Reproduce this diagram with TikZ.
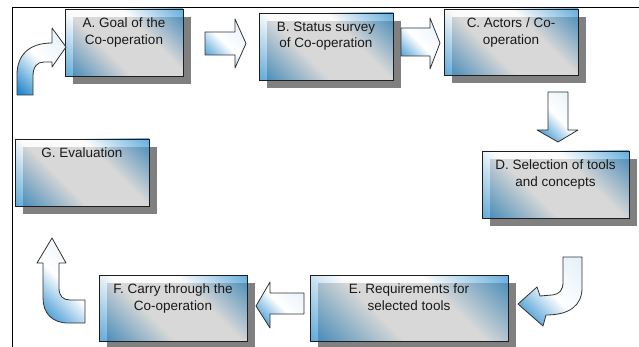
\documentclass[tikz,border=0pt]{standalone}
\usepackage{fontspec}
\setmainfont{Liberation Sans}
\usetikzlibrary{shadows}
\definecolor{bblue}{RGB}{38,138,204}
\definecolor{lightc}{RGB}{250,250,250}
\definecolor{shgrey}{RGB}{128,128,128}
\definecolor{edgec}{RGB}{30,30,30}
\definecolor{arredge}{RGB}{50,50,50}
\definecolor{txtc}{RGB}{25,25,25}
\pgfdeclareverticalshading{boxshade}{100bp}{color(0bp)=(bblue); color(15bp)=(bblue); color(40bp)=(lightc); color(62bp)=(lightc); color(86bp)=(bblue); color(100bp)=(bblue)}
\pgfdeclareverticalshading{arrshade}{100bp}{color(0bp)=(bblue); color(18bp)=(bblue); color(50bp)=(white); color(82bp)=(white!88!bblue); color(100bp)=(white!88!bblue)}
\tikzset{
  procbox/.style={draw=edgec, line width=0.9pt, shading=boxshade, shading angle=-45,
    fill opacity=0.72, draw opacity=1, inner sep=0pt,
    drop shadow={shadow xshift=8pt, shadow yshift=-8pt, fill=shgrey, opacity=1}},
  boxtext/.style={anchor=north, inner sep=0pt, align=center, text=txtc, text opacity=1,
    font=\fontsize{13.5}{16.5}\selectfont},
  blockarrow/.style={draw=arredge, line width=0.8pt, shading=arrshade, shading angle=-45, line join=round},
  framel/.style={draw=black, line width=1pt}
}
\begin{document}
\begin{tikzpicture}[x=1pt, y=-1pt]
\useasboundingbox (0,0) rectangle (639,347);
% frame lines
\coordinate (ftr) at (639,8);
\coordinate (ftl) at (12,8);
\coordinate (fbl) at (12,347);
\draw[framel] (ftr) -- (ftl) -- (fbl);
% boxes
\node[procbox, minimum width=118pt, minimum height=67pt] (A) at (124,42.5) {};
\node[procbox, minimum width=134pt, minimum height=67pt] (B) at (326,46.5) {};
\node[procbox, minimum width=134pt, minimum height=66pt] (C) at (511,42) {};
\node[procbox, minimum width=147pt, minimum height=67pt] (D) at (555.5,184.5) {};
\node[procbox, minimum width=198pt, minimum height=66pt] (E) at (409,308) {};
\node[procbox, minimum width=148pt, minimum height=66pt] (F) at (173,308) {};
\node[procbox, minimum width=134pt, minimum height=67pt] (G) at (82,172.5) {};
% texts
\node[boxtext] (tA) at ([yshift=-9pt]A.north) {A. Goal of the\\Co-operation};
\node[boxtext] (tB) at ([yshift=-9pt]B.north) {B. Status survey\\of Co-operation};
\node[boxtext] (tC) at ([yshift=-9pt]C.north) {C. Actors / Co-\\operation};
\node[boxtext] (tD) at ([yshift=-9pt]D.north) {D. Selection of tools\\and concepts};
\node[boxtext] (tE) at ([yshift=-9pt]E.north) {E. Requirements for\\selected tools};
\node[boxtext] (tF) at ([yshift=-9pt]F.north) {F. Carry through the\\Co-operation};
\node[boxtext] (tG) at ([yshift=-9pt]G.north) {G. Evaluation};
% curved arrow into A
\path[blockarrow] (17,95) -- (17,75) .. controls (17,55) and (29,43) .. (52,43)
  -- (52,28) -- (66,47) -- (52,67) -- (52,62) -- (44,62)
  .. controls (37,62) and (33,67) .. (33,76) -- (33,95) -- cycle;
% A -> B
\path[blockarrow] (205,32) -- (235,32) -- (235,19) -- (246,43.5) -- (235,68) -- (235,55) -- (205,55) -- cycle;
% B -> C
\path[blockarrow] (401,28) -- (430,28) -- (430,18) -- (440,43) -- (430,69) -- (430,56) -- (401,56) -- cycle;
% C -> D
\path[blockarrow] (548,92) -- (568,92) -- (568,130) -- (578,130) -- (558,142) -- (537,130) -- (548,130) -- cycle;
% D -> E curved
\path[blockarrow] (563,257) -- (582,257) -- (582,288) .. controls (582,305) and (570,315) .. (546,315)
  -- (543,326) -- (518,304) -- (537,287) -- (540,296) -- (552,295)
  .. controls (560,294) and (563,290) .. (563,282) -- cycle;
% E -> F
\path[blockarrow] (304,293) -- (270,293) -- (270,282) -- (256,306) -- (270,328) -- (270,314) -- (304,314) -- cycle;
% F -> G curved
\path[blockarrow] (52,238) -- (66,263) -- (59,263) -- (59,288) .. controls (59,296) and (63,300) .. (70,300)
  -- (85,300) -- (85,323) -- (68,323) .. controls (52,323) and (43,313) .. (43,298)
  -- (43,263) -- (37,263) -- cycle;
\end{tikzpicture}
\end{document}
